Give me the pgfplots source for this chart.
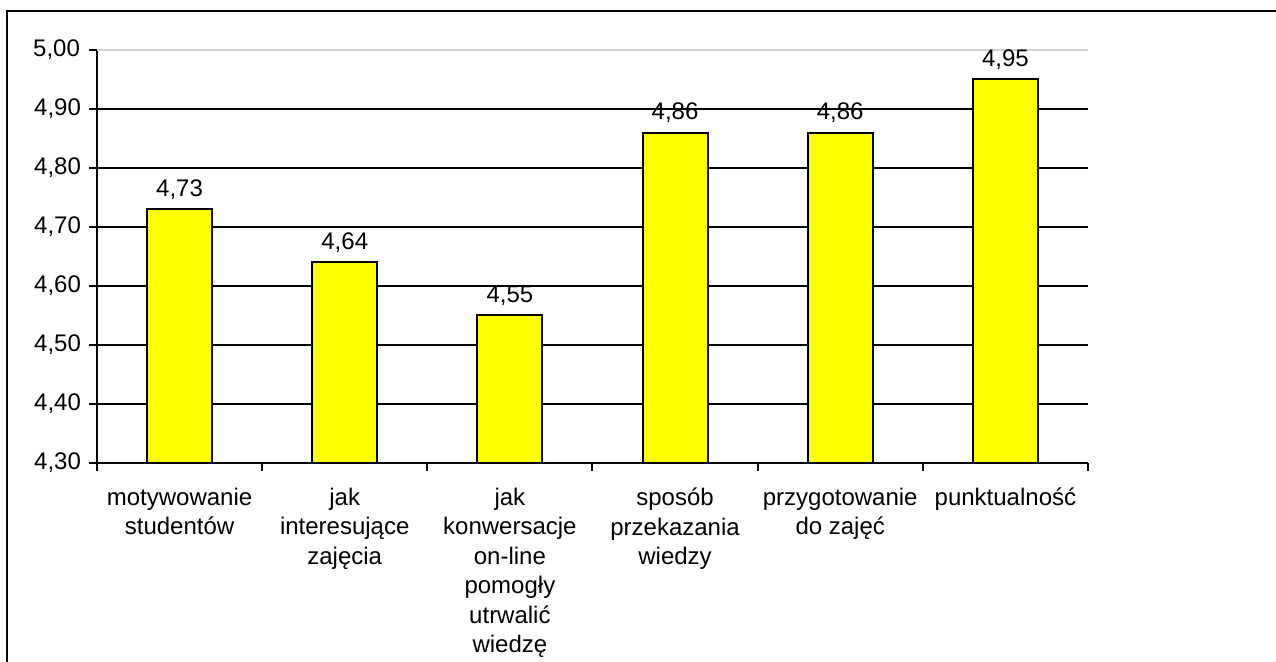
\documentclass[border=0pt]{standalone}
\usepackage{fontspec}
\setmainfont{Liberation Sans}
\usepackage{pgfplots}
\pgfplotsset{compat=1.18}
\definecolor{baryellow}{HTML}{FFFF00}

\begin{document}
\begin{tikzpicture}
\path[use as bounding box] (0,0) rectangle (638pt,331pt);
% outer chart frame (only left and top edges are visible)
\draw[line width=1.3pt] (3.5pt,-3pt) -- (3.5pt,325.5pt) -- (645pt,325.5pt);
\begin{axis}[
  at={(48.5pt,99.5pt)}, anchor=south west,
  scale only axis,
  width=495.5pt, height=206.5pt,
  ybar, bar width=32.5pt,
  xmin=-0.5, xmax=5.5,
  ymin=4.3, ymax=5.0,
  clip=false,
  axis x line*=bottom, axis y line*=left,
  axis line style={-, line width=1pt},
  tick align=outside,
  major tick length=4pt,
  every tick/.style={black, line width=1pt},
  xtick={-0.5,0.5,1.5,2.5,3.5,4.5,5.5},
  xticklabels={},
  extra x ticks={0,1,2,3,4,5},
  extra x tick labels={{motywowanie\\studentów},{jak\\interesujące\\zajęcia},{jak\\konwersacje\\on-line\\pomogły\\utrwalić\\wiedzę},{sposób\\przekazania\\wiedzy},{przygotowanie\\do zajęć},{punktualność}},
  extra x tick style={major tick length=0pt, xticklabel style={align=center, anchor=north, yshift=-9pt}},
  ytick={4.3,4.4,4.5,4.6,4.7,4.8,4.9},
  yticklabel style={xshift=-0.5pt},
  extra y ticks={5.0},
  extra y tick style={ymajorgrids, major grid style={gray!35, line width=0.7pt}, yticklabel style={xshift=-0.5pt}},
  ymajorgrids,
  major grid style={black, line width=1.1pt},
  tick label style={font=\fontsize{12pt}{14.75pt}\selectfont},
  /pgf/number format/.cd, fixed, fixed zerofill, precision=2, use comma, assume math mode=true,
  /pgfplots/.cd,
  nodes near coords,
  every node near coord/.append style={font=\fontsize{12pt}{14.75pt}\selectfont, yshift=1pt},
]
\addplot[fill=baryellow, draw=black, line width=1pt] coordinates {(0,4.73) (1,4.64) (2,4.55) (3,4.86) (4,4.86) (5,4.95)};
\end{axis}
\end{tikzpicture}
\end{document}
